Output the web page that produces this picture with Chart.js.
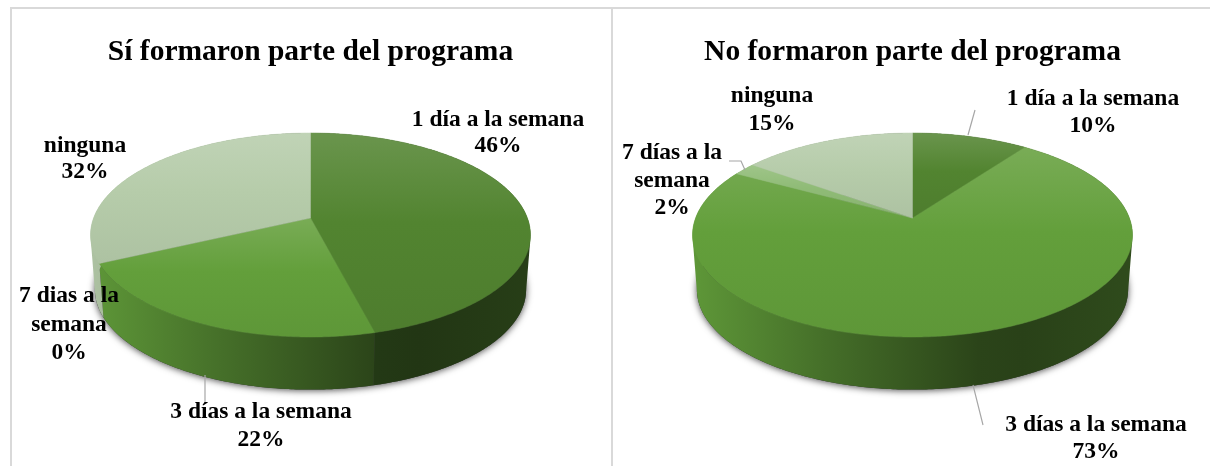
<!DOCTYPE html>
<html><head><meta charset="utf-8">
<style>
html,body{margin:0;padding:0;background:#fff;overflow:hidden;width:1210px;height:466px}
canvas{position:absolute;top:0}
.rule{position:absolute;background:#d9d9d9}
</style>
<script src="https://cdn.jsdelivr.net/npm/chart.js@4"></script>
</head><body>
<div class="rule" style="left:10px;top:7px;width:1200px;height:2px"></div>
<div class="rule" style="left:10px;top:7px;width:2px;height:459px"></div>
<div class="rule" style="left:611px;top:7px;width:2px;height:459px"></div>
<canvas id="c1" width="599" height="466" style="left:11px"></canvas>
<canvas id="c2" width="599" height="466" style="left:613px"></canvas>
<script>
const titleSi = 'Sí formaron parte del programa';
const titleNo = 'No formaron parte del programa';
const categoriesSi = ['1 día a la semana','3 días a la semana','7 dias a la semana','ninguna'];
const categoriesNo = ['1 día a la semana','3 días a la semana','7 días a la semana','ninguna'];
const valuesSi = [46,22,0,32];
const valuesNo = [10,73,2,15];
const sliceColors = ['#528430','#639f3b','#8fbb76','#b6ccaa'];

/* label layout, page px: centre x, y of each line, wrapped text comes from the categories */
const labelLayoutSi = [
  {x:498,ys:[120,146],wrap:false},
  {x:261,ys:[412,440],wrap:false},
  {x:69,ys:[296,325,353],wrap:true},
  {x:85,ys:[146,172],wrap:false}
];
const labelLayoutNo = [
  {x:1093,ys:[99,126],wrap:false},
  {x:1096,ys:[425,452],wrap:false},
  {x:672,ys:[153,181,208],wrap:true},
  {x:772,ys:[96,124],wrap:false}
];
const leadersSi = [[[205,375],[205,403]]];
const leadersNo = [[[975,110],[968,135]],[[973,385],[983,425]],[[729,161],[741,161],[745,170]]];

const hex=c=>[1,3,5].map(i=>parseInt(c.substr(i,2),16));
const mix=(c,t,a)=>{const p=hex(c);return `rgb(${p.map(v=>Math.round(v+(t-v)*a)).join(',')})`;};
const dim=(c,f)=>{const p=hex(c);return `rgb(${p.map(v=>Math.round(v*f)).join(',')})`;};

/* perspective view of a tilted disc */
const K=1/6, AY=99.17, BX=216.9, APEX_Y=218, DEPTH=55, BOTTOM_SCALE=0.98;
function pt(cx,a,bottom){
  const u=Math.cos(a),v=Math.sin(a),w=1-K*v,s=bottom?BOTTOM_SCALE:1;
  return [cx+s*BX*u/w, APEX_Y+(bottom?DEPTH:0)+s*AY*v/w];
}
function samples(a0,a1){
  const n=Math.max(2,Math.ceil((a1-a0)/0.01)),r=[];
  for(let i=0;i<=n;i++) r.push(a0+(a1-a0)*i/n);
  return r;
}
function tracePts(ctx,pts){ pts.forEach((p,i)=>i?ctx.lineTo(p[0],p[1]):ctx.moveTo(p[0],p[1])); ctx.closePath(); }
function area(q){ let s=0; q.forEach((p,i)=>{const n=q[(i+1)%q.length]; s+=p[0]*n[1]-n[0]*p[1];}); return s; }

const pie3d={
  id:'pie3d',
  beforeDatasetsDraw(chart){
    const ctx=chart.ctx, arcs=chart.getDatasetMeta(0).data;
    const cx=arcs[0].x;
    const L=cx-220,W=440;
    ctx.save();
    /* soft shadow under the body */
    ctx.save();
    ctx.shadowColor='rgba(0,0,0,0.7)';ctx.shadowBlur=7;ctx.shadowOffsetY=1;
    ctx.fillStyle='#333';
    ctx.beginPath();tracePts(ctx,samples(0,Math.PI*2).map(a=>pt(cx,a,true)));ctx.fill();
    ctx.restore();
    /* side wall: the rim swept down, as one path of equally wound quads */
    arcs.forEach(el=>{
      if(el.endAngle-el.startAngle<1e-4) return;
      const s=samples(el.startAngle,el.endAngle), base=el.options.backgroundColor;
      const g=ctx.createLinearGradient(L,0,L+W,0);
      g.addColorStop(0,dim(base,0.95));
      g.addColorStop(0.3,dim(base,0.7));
      g.addColorStop(0.65,dim(base,0.43));
      g.addColorStop(0.75,dim(base,0.41));
      g.addColorStop(1,dim(base,0.47));
      ctx.fillStyle=g;
      ctx.beginPath();
      for(let i=0;i<s.length-1;i++){
        let q=[pt(cx,s[i],false),pt(cx,s[i+1],false),pt(cx,s[i+1],true),pt(cx,s[i],true)];
        if(area(q)<0) q=q.reverse();
        tracePts(ctx,q);
      }
      ctx.fill();
    });
    /* top face */
    arcs.forEach(el=>{
      if(el.endAngle-el.startAngle<1e-4) return;
      const pts=[[cx,APEX_Y]].concat(samples(el.startAngle,el.endAngle).map(a=>pt(cx,a,false)));
      const ys=pts.map(p=>p[1]), base=el.options.backgroundColor;
      const g=ctx.createLinearGradient(0,Math.min(...ys),0,Math.max(...ys));
      g.addColorStop(0,mix(base,255,0.14));
      g.addColorStop(0.45,base);
      g.addColorStop(1,mix(base,0,0.05));
      ctx.fillStyle=g;ctx.strokeStyle=g;ctx.lineWidth=0.5;
      ctx.beginPath();tracePts(ctx,pts);ctx.fill();ctx.stroke();
    });
    ctx.restore();
    return false;
  },
  afterDraw(chart,args,opts){
    const ctx=chart.ctx, left=opts.pageLeft;
    ctx.save();
    ctx.strokeStyle='#a6a6a6';ctx.lineWidth=1.2;
    opts.leaders.forEach(l=>{
      ctx.beginPath();
      l.forEach((p,i)=>i?ctx.lineTo(p[0]-left,p[1]):ctx.moveTo(p[0]-left,p[1]));
      ctx.stroke();
    });
    ctx.fillStyle='#000';ctx.textAlign='center';ctx.textBaseline='middle';
    ctx.font='bold 23.5px "Liberation Serif"';
    chart.data.labels.forEach((name,i)=>{
      const lay=opts.layout[i], v=chart.data.datasets[0].data[i];
      let lines;
      if(lay.wrap){ const k=name.lastIndexOf(' '); lines=[name.slice(0,k),name.slice(k+1)]; }
      else lines=[name];
      lines.push(v+'%');
      lines.forEach((t,j)=>ctx.fillText(t,lay.x-left,lay.ys[j]));
    });
    ctx.restore();
  }
};

function makePie(id,title,labels,values,layout,leaders,pageLeft){
  return new Chart(document.getElementById(id),{
    type:'pie',
    data:{labels,datasets:[{data:values,backgroundColor:sliceColors,borderWidth:0}]},
    plugins:[pie3d],
    options:{
      responsive:false,animation:false,devicePixelRatio:1,
      layout:{padding:0},
      plugins:{
        legend:{display:false},tooltip:{enabled:false},
        title:{display:true,text:title,color:'#000',align:'center',
          font:{family:'"Liberation Serif"',weight:'bold',size:29.5},padding:{top:35,bottom:20}},
        pie3d:{layout,leaders,pageLeft}
      }
    }
  });
}
makePie('c1',titleSi,categoriesSi,valuesSi,labelLayoutSi,leadersSi,11);
makePie('c2',titleNo,categoriesNo,valuesNo,labelLayoutNo,leadersNo,613);
</script>
</body></html>
